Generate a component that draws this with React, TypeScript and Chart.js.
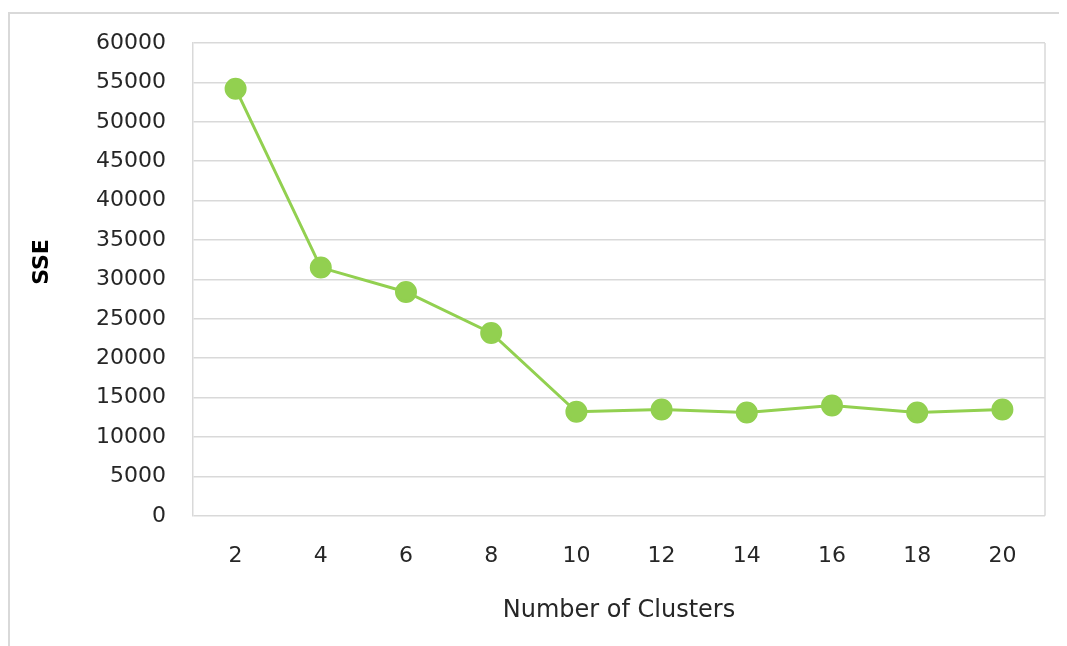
import React, { useEffect, useRef } from "react";
import { Chart, registerables } from "chart.js";

Chart.register(...registerables);

const clusters = ["2", "4", "6", "8", "10", "12", "14", "16", "18", "20"];
const sse = [54200, 31500, 28400, 23200, 13200, 13500, 13100, 14000, 13100, 13500];
const yMin = 0;
const yMax = 60000;
const yStep = 5000;
const xTitle = "Number of Clusters";
const yTitle = "SSE";

const FONT = "'DejaVu Sans', 'Open Sans', sans-serif";
const GRID = "#d9d9d9";
const GREEN = "#92d050";

const framePlugin = {
  id: "frame",
  beforeDraw(chart: any) {
    const { ctx, chartArea } = chart;
    ctx.save();
    ctx.strokeStyle = GRID;
    ctx.lineWidth = 2;
    ctx.beginPath();
    ctx.moveTo(1, chart.height);
    ctx.lineTo(1, 5);
    ctx.lineTo(chart.width, 5);
    ctx.stroke();
    ctx.lineWidth = 1.5;
    ctx.beginPath();
    ctx.moveTo(chartArea.right, chartArea.top);
    ctx.lineTo(chartArea.right, chartArea.bottom);
    ctx.stroke();
    // y-axis title
    ctx.translate(34, 254);
    ctx.rotate(-Math.PI / 2);
    ctx.fillStyle = "#000";
    ctx.font = `bold 22px ${FONT}`;
    ctx.textAlign = "center";
    ctx.textBaseline = "middle";
    ctx.fillText(yTitle, 0, 0);
    ctx.restore();
  },
};

export default function App() {
  const ref = useRef<HTMLCanvasElement | null>(null);
  useEffect(() => {
    if (!ref.current) return;
    const chart = new Chart(ref.current, {
      type: "line",
      data: {
        labels: clusters,
        datasets: [
          {
            data: sse,
            borderColor: GREEN,
            backgroundColor: GREEN,
            borderWidth: 3,
            pointRadius: 9.5,
            pointBackgroundColor: GREEN,
            pointBorderColor: GREEN,
            tension: 0,
          },
        ],
      },
      options: {
        animation: false,
        responsive: false,
        layout: { autoPadding: false, padding: { left: 22, right: 22, top: 35, bottom: 21 } },
        plugins: { legend: { display: false }, tooltip: { enabled: false } },
        scales: {
          x: {
            offset: true,
            grid: { display: false, drawTicks: false },
            border: { display: false },
            ticks: { color: "#262626", font: { family: FONT, size: 22 }, padding: 27 },
            title: {
              display: true,
              text: xTitle,
              color: "#262626",
              font: { family: FONT, size: 24 },
              padding: { top: 0, bottom: 0 },
            },
          },
          y: {
            min: yMin,
            max: yMax,
            afterFit: (scale: any) => {
              scale.width = 163;
              scale.paddingTop = 12;
              scale.paddingBottom = 12;
            },
            grid: { color: GRID, lineWidth: 1.5, drawTicks: false },
            border: { display: true, color: GRID, width: 1.5 },
            ticks: {
              stepSize: yStep,
              color: "#262626",
              font: { family: FONT, size: 22 },
              padding: 27,
              callback: (v: any) => String(v),
            },
            title: { display: false },
          },
        },
      },
      plugins: [framePlugin],
    });
    return () => chart.destroy();
  }, []);
  return <canvas ref={ref} width={1059} height={638} style={{ display: "block" }} />;
}
